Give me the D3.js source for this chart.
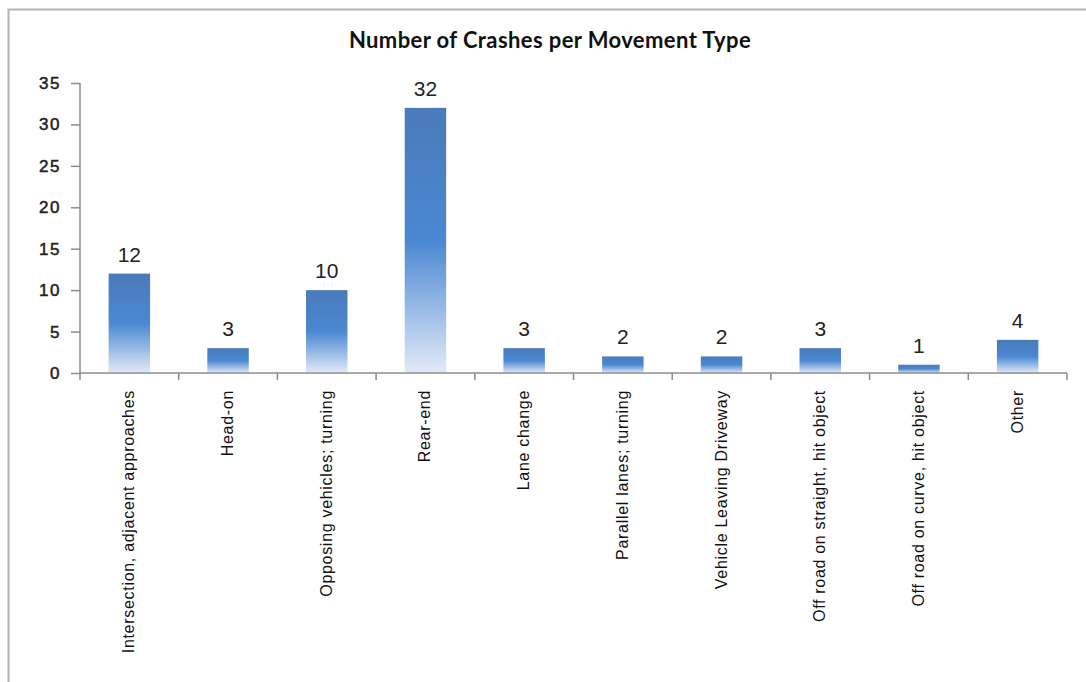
<!DOCTYPE html>
<html>
<head>
<meta charset="utf-8">
<script src="https://cdn.jsdelivr.net/npm/d3@7"></script>
<style>
  body { margin: 0; background: #fff; }
</style>
</head>
<body>
<div id="chart"></div>
<script>
var categories = ["Intersection, adjacent approaches", "Head-on", "Opposing vehicles; turning",
  "Rear-end", "Lane change", "Parallel lanes; turning", "Vehicle Leaving Driveway",
  "Off road on straight, hit object", "Off road on curve, hit object", "Other"];
var crashes = [12, 3, 10, 32, 3, 2, 2, 3, 1, 4];
var yTicks = [0, 5, 10, 15, 20, 25, 30, 35];

var svgWidth = 1086;
var svgHeight = 682;
var margin = { top: 83, right: 19, bottom: 309, left: 80 };
var chartWidth = svgWidth - margin.left - margin.right;
var chartHeight = svgHeight - margin.top - margin.bottom;

var svg = d3.select("#chart").append("svg")
  .attr("width", svgWidth)
  .attr("height", svgHeight);

// outer frame (right and bottom edges fall off the picture)
svg.append("rect")
  .attr("x", 8.5).attr("y", 9.5)
  .attr("width", svgWidth + 10).attr("height", svgHeight + 10)
  .attr("fill", "none")
  .attr("stroke", "#b4b4b4")
  .attr("stroke-width", 2);

var defs = svg.append("defs");
var grad = defs.append("linearGradient")
  .attr("id", "barGrad")
  .attr("x1", 0).attr("y1", 0).attr("x2", 0).attr("y2", 1);
grad.append("stop").attr("offset", "0%").attr("stop-color", "#4a7bbb");
grad.append("stop").attr("offset", "50%").attr("stop-color", "#4a88d2");
grad.append("stop").attr("offset", "100%").attr("stop-color", "#e2eaf7");

svg.append("text")
  .attr("x", 550)
  .attr("y", 48)
  .attr("text-anchor", "middle")
  .attr("font-family", "Lato, 'Open Sans', sans-serif")
  .attr("font-weight", "bold")
  .attr("font-size", "22px")
  .attr("letter-spacing", "0.4px")
  .attr("fill", "#111")
  .text("Number of Crashes per Movement Type");

var chartGroup = svg.append("g")
  .attr("transform", `translate(${margin.left}, ${margin.top})`);

var xScale = d3.scaleBand()
  .domain(categories)
  .range([0, chartWidth])
  .paddingInner(0.58)
  .paddingOuter(0.29);

var yScale = d3.scaleLinear()
  .domain([0, 35])
  .range([chartHeight, 0]);

// bars
chartGroup.selectAll("rect.bar")
  .data(categories)
  .enter()
  .append("rect")
  .attr("class", "bar")
  .attr("x", d => xScale(d))
  .attr("y", (d, i) => yScale(crashes[i]))
  .attr("width", xScale.bandwidth())
  .attr("height", (d, i) => chartHeight - yScale(crashes[i]))
  .attr("fill", "url(#barGrad)");

// value labels
chartGroup.selectAll("text.val")
  .data(categories)
  .enter()
  .append("text")
  .attr("class", "val")
  .attr("x", d => xScale(d) + xScale.bandwidth() / 2)
  .attr("y", (d, i) => yScale(crashes[i]) - 12)
  .attr("text-anchor", "middle")
  .attr("font-family", "'Liberation Sans', Arial, sans-serif")
  .attr("font-size", "21px")
  .attr("fill", "#222")
  .text((d, i) => crashes[i]);

// y axis
var yAxis = d3.axisLeft(yScale).tickValues(yTicks).tickSize(9).tickSizeOuter(0);
var yG = chartGroup.append("g").call(yAxis);
yG.select(".domain").attr("stroke", "#8c8c8c").attr("stroke-width", 1.5)
  .attr("d", `M0,${chartHeight + 7}V0`);
yG.selectAll(".tick line").attr("stroke", "#8c8c8c").attr("stroke-width", 1.5);
yG.selectAll(".tick text")
  .attr("x", -19)
  .attr("font-family", "'Liberation Sans', Arial, sans-serif")
  .attr("font-size", "17px")
  .attr("letter-spacing", "1.5px")
  .attr("fill", "#222")
  .attr("stroke", "#222")
  .attr("stroke-width", 0.5);

// x axis: ticks at band boundaries
var xG = chartGroup.append("g").attr("transform", `translate(0, ${chartHeight})`);
xG.append("line")
  .attr("x1", 0).attr("x2", chartWidth)
  .attr("stroke", "#8c8c8c").attr("stroke-width", 1.5);
var edges = d3.range(categories.length + 1).map(i => i * chartWidth / categories.length);
xG.selectAll("line.tk")
  .data(edges.slice(1))
  .enter()
  .append("line")
  .attr("class", "tk")
  .attr("x1", d => d).attr("x2", d => d)
  .attr("y1", 0).attr("y2", 7)
  .attr("stroke", "#8c8c8c").attr("stroke-width", 1.5);

xG.selectAll("text.cat")
  .data(categories)
  .enter()
  .append("text")
  .attr("class", "cat")
  .attr("transform", d => `translate(${xScale(d) + xScale.bandwidth() / 2 + 5}, 17) rotate(-90)`)
  .attr("text-anchor", "end")
  .attr("font-family", "'Liberation Sans', Arial, sans-serif")
  .attr("font-size", "16px")
  .attr("letter-spacing", "0.7px")
  .attr("fill", "#111")
  .text(d => d);
</script>
</body>
</html>
